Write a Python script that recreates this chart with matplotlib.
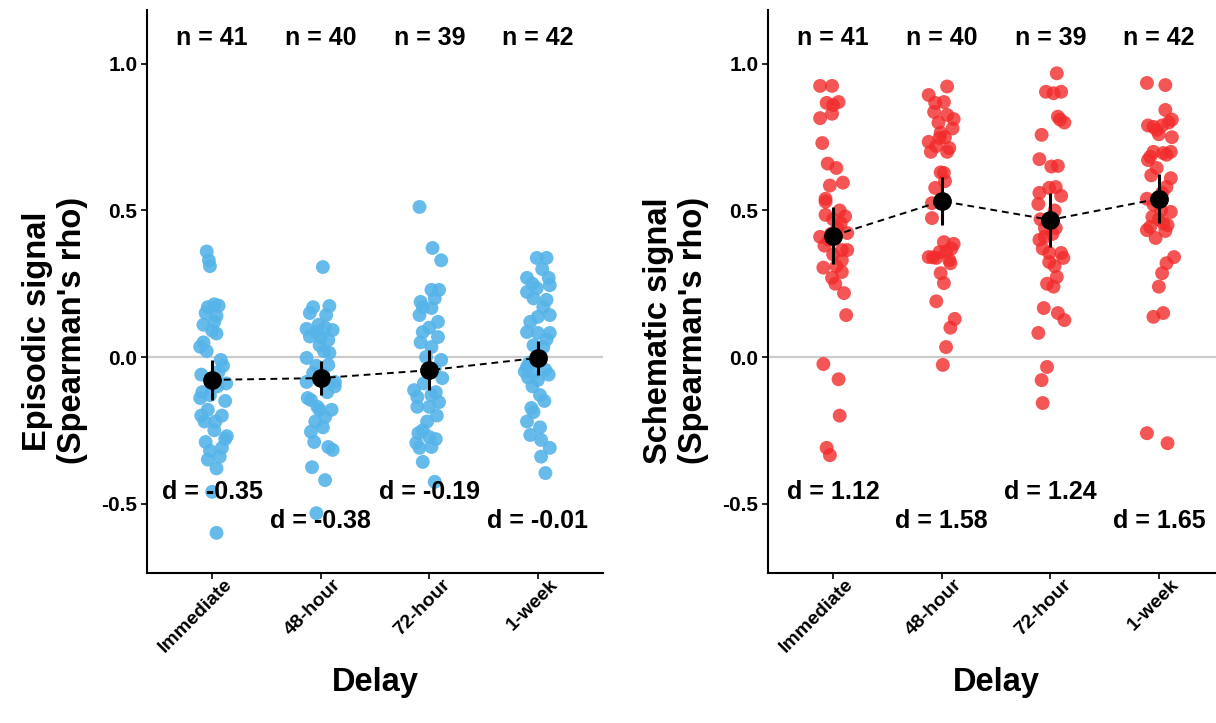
import numpy as np
import matplotlib
matplotlib.use("Agg")
import matplotlib.pyplot as plt
import matplotlib.transforms as mtransforms

plt.rcParams['font.family'] = ['Liberation Sans', 'DejaVu Sans']
plt.rcParams['font.weight'] = 'bold'

delays = ['Immediate', '48-hour', '72-hour', '1-week']
n_labels = ['n = 41', 'n = 40', 'n = 39', 'n = 42']

# episodic signal per delay (value, jitter)
epi_imm = [0.36, 0.33, 0.31, 0.17, 0.175, 0.14, 0.11, 0.09, 0.08, 0.05,
           0.035, -0.01, -0.09, -0.12, -0.14, -0.13, -0.15, -0.22, -0.22, -0.20,
           -0.27, -0.29, -0.31, -0.28, -0.32, -0.34, -0.38, -0.46, -0.60,
           0.02, -0.03, -0.06, -0.10, -0.18, -0.25, 0.12, -0.05, -0.20, 0.15, 0.18, -0.35]
epi_imm_jit = [-0.05, -0.03, -0.02, -0.04, 0.06, 0.04, -0.08, 0.0, 0.04, -0.08,
               -0.11, 0.08, 0.13, -0.09, -0.11, -0.02, 0.12, -0.07, 0.03, 0.09,
               0.135, -0.06, 0.09, 0.12, -0.02, 0.07, 0.04, 0.0, 0.04,
               -0.05, 0.10, -0.10, 0.05, -0.04, 0.02, 0.02, 0.06, -0.10, -0.06, 0.02, -0.04]

epi_48 = [0.307, 0.17, 0.174, 0.15, 0.143, 0.096, 0.085, 0.092, 0.068, 0.058,
          0.04, 0.014, -0.003, -0.027, -0.055, -0.085, -0.085, -0.10, -0.147, -0.17,
          -0.18, -0.205, -0.18, -0.255, -0.24, -0.29, -0.307, -0.317, -0.376, -0.42, -0.533,
          0.10, 0.07, 0.02, -0.03, -0.12, -0.14, -0.22, 0.11, -0.06]
epi_48_jit = [0.02, -0.07, 0.08, -0.10, 0.05, -0.13, -0.04, 0.11, 0.0, 0.07,
              -0.01, 0.08, -0.13, 0.07, -0.07, -0.13, 0.13, 0.13, -0.09, -0.03,
              0.10, 0.04, -0.01, -0.09, 0.02, -0.06, 0.07, 0.11, -0.08, 0.04, -0.04,
              0.04, -0.10, 0.03, -0.04, 0.06, -0.12, -0.05, -0.02, 0.02]

epi_72 = [0.512, 0.372, 0.33, 0.229, 0.229, 0.188, 0.17, 0.167, 0.143, 0.12,
          0.085, 0.068, 0.034, 0.0, -0.01, -0.072, -0.113, -0.12, -0.137, -0.154,
          -0.17, -0.17, -0.25, -0.273, -0.293, -0.307, -0.31, -0.358, -0.426,
          0.10, 0.05, -0.04, -0.09, -0.20, -0.22, -0.28, 0.20, -0.13, -0.26]
epi_72_jit = [-0.09, 0.03, 0.11, 0.02, 0.09, -0.08, -0.06, 0.02, -0.09, 0.08,
              -0.06, 0.08, 0.02, -0.03, 0.11, 0.12, -0.14, 0.06, -0.11, 0.09,
              -0.11, 0.0, -0.06, 0.0, -0.12, 0.02, -0.09, -0.06, 0.05,
              0.0, -0.08, 0.05, -0.05, 0.07, -0.02, 0.06, 0.05, 0.02, -0.10]

epi_1w = [0.338, 0.338, 0.27, 0.27, 0.245, 0.222, 0.235, 0.195, 0.137, 0.143,
          0.085, 0.082, 0.082, 0.04, 0.034, -0.05, -0.055, -0.044, -0.078, -0.034,
          -0.13, -0.174, -0.188, -0.22, -0.24, -0.266, -0.283, -0.31, -0.34, -0.396,
          0.30, 0.25, 0.17, 0.12, 0.06, 0.0, -0.02, -0.06, -0.10, -0.15, 0.20, -0.07]
epi_1w_jit = [-0.01, 0.08, -0.10, 0.10, 0.11, -0.10, -0.01, 0.08, 0.0, 0.11,
              -0.10, 0.0, 0.11, -0.04, 0.05, -0.12, -0.04, 0.07, 0.0, -0.10,
              0.02, -0.06, -0.04, -0.10, 0.02, -0.07, 0.03, 0.11, 0.03, 0.07,
              0.04, -0.05, 0.05, -0.07, 0.08, 0.03, -0.08, 0.10, -0.05, 0.06, -0.04, -0.09]

# schematic signal per delay
sch_imm = [0.925, 0.925, 0.867, 0.87, 0.86, 0.815, 0.83, 0.73, 0.66, 0.645,
           0.585, 0.595, 0.54, 0.53, 0.485, 0.48, 0.457, 0.41, 0.40, 0.423,
           0.365, 0.365, 0.35, 0.305, 0.33, 0.29, 0.27, 0.25, 0.218, 0.143,
           -0.024, -0.076, -0.20, -0.31, -0.335,
           0.44, 0.38, 0.31, 0.47, 0.50, 0.42]
sch_imm_jit = [-0.12, -0.01, -0.06, 0.05, 0.0, -0.12, -0.01, -0.10, -0.05, 0.03,
               -0.03, 0.09, -0.07, -0.07, -0.07, 0.11, 0.07, -0.12, -0.04, 0.13,
               0.08, 0.13, 0.0, -0.09, 0.08, 0.08, -0.01, 0.02, 0.10, 0.12,
               -0.09, 0.05, 0.06, -0.06, -0.03,
               0.04, -0.08, 0.03, 0.0, 0.06, -0.02]

sch_48 = [0.923, 0.894, 0.867, 0.836, 0.826, 0.812, 0.78, 0.765, 0.734, 0.747,
          0.713, 0.70, 0.70, 0.63, 0.628, 0.577, 0.525, 0.474, 0.392, 0.386,
          0.341, 0.338, 0.358, 0.331, 0.32, 0.286, 0.252, 0.19, 0.13, 0.10,
          0.034, -0.027,
          0.75, 0.72, 0.80, 0.36, 0.34, 0.37, 0.87, 0.60]
sch_48_jit = [0.05, -0.12, -0.06, -0.07, 0.05, 0.11, 0.10, -0.01, -0.12, -0.02,
              0.07, -0.10, 0.05, -0.01, 0.02, -0.06, -0.09, -0.09, 0.02, 0.11,
              -0.12, -0.05, -0.02, 0.07, 0.08, -0.01, 0.02, -0.05, 0.12, 0.08,
              0.04, 0.01,
              0.03, -0.05, -0.03, 0.04, -0.08, 0.09, 0.02, 0.03]

sch_72 = [0.968, 0.905, 0.90, 0.905, 0.82, 0.80, 0.81, 0.758, 0.675, 0.65,
          0.652, 0.577, 0.56, 0.55, 0.522, 0.50, 0.44, 0.40, 0.41, 0.355,
          0.355, 0.324, 0.338, 0.273, 0.24, 0.167, 0.15, 0.126, 0.082, -0.034,
          -0.079, -0.157,
          0.44, 0.37, 0.31, 0.47, 0.58, 0.25, 0.42]
sch_72_jit = [0.06, -0.04, 0.03, 0.10, 0.07, 0.13, 0.09, -0.08, -0.10, 0.01,
              0.07, -0.01, -0.10, 0.10, -0.11, 0.04, -0.05, -0.10, -0.05, -0.01,
              0.10, -0.01, 0.12, 0.06, 0.03, -0.06, 0.07, 0.13, -0.11, -0.03,
              -0.08, -0.07,
              0.05, -0.07, 0.04, -0.09, 0.05, -0.03, 0.02]

sch_1w = [0.935, 0.928, 0.843, 0.81, 0.79, 0.775, 0.785, 0.75, 0.70, 0.696,
          0.683, 0.672, 0.645, 0.61, 0.58, 0.54, 0.495, 0.478, 0.457, 0.433,
          0.406, 0.444, 0.341, 0.32, 0.286, 0.24, 0.137, 0.15, -0.26, -0.294,
          0.79, 0.80, 0.70, 0.69, 0.47, 0.45, 0.52, 0.50, 0.43, 0.62, 0.76, 0.56]
sch_1w_jit = [-0.11, 0.06, 0.06, 0.12, -0.10, -0.02, -0.05, 0.12, 0.11, 0.04,
              -0.08, -0.10, -0.02, 0.11, 0.07, -0.11, 0.11, -0.06, 0.04, -0.11,
              -0.03, -0.08, 0.14, 0.07, 0.03, 0.0, -0.05, 0.04, -0.11, 0.08,
              0.03, 0.09, -0.05, 0.07, 0.0, 0.08, -0.05, 0.02, 0.06, -0.07, 0.0, 0.03]

# group means and 95% CI half widths
epi_mean = [-0.078, -0.072, -0.045, -0.003]
epi_ci = [0.068, 0.057, 0.068, 0.058]
sch_mean = [0.414, 0.532, 0.468, 0.540]
sch_ci = [0.097, 0.083, 0.091, 0.083]

epi_d = ['d = -0.35', 'd = -0.38', 'd = -0.19', 'd = -0.01']
sch_d = ['d = 1.12', 'd = 1.58', 'd = 1.24', 'd = 1.65']

panels = [
    dict(vals=[epi_imm, epi_48, epi_72, epi_1w],
         jit=[epi_imm_jit, epi_48_jit, epi_72_jit, epi_1w_jit],
         mean=epi_mean, ci=epi_ci, d=epi_d, color='#56B4E9', alpha=0.9,
         ylabel="Episodic signal\n(Spearman's rho)"),
    dict(vals=[sch_imm, sch_48, sch_72, sch_1w],
         jit=[sch_imm_jit, sch_48_jit, sch_72_jit, sch_1w_jit],
         mean=sch_mean, ci=sch_ci, d=sch_d, color='#F22B2B', alpha=0.8,
         ylabel="Schematic signal\n(Spearman's rho)"),
]

fig = plt.figure(figsize=(12.16, 7.23), dpi=100)
lefts = [147 / 1216, 768 / 1216]
shift = mtransforms.ScaledTranslation(8.6 / 72, 5 / 72, fig.dpi_scale_trans)
for p, left in zip(panels, lefts):
    ax = fig.add_axes([left, 1 - 573 / 723, 456 / 1216, 563 / 723])
    pos = np.arange(1, 5)
    ax.axhline(0, color='#cccccc', lw=1.6, zorder=0)
    for i in range(4):
        x = pos[i] + np.array(p['jit'][i])
        ax.scatter(x, p['vals'][i], s=100, color=p['color'], alpha=p['alpha'],
                   edgecolors='none', zorder=2)
    ax.plot(pos, p['mean'], ls=(0, (3.5, 2.5)), color='black', lw=1.4, zorder=3)
    ax.errorbar(pos, p['mean'], yerr=p['ci'], fmt='o', color='black', ms=12.5,
                elinewidth=2.2, capsize=0, zorder=4)
    for i in range(4):
        ax.text(pos[i], 1.09, n_labels[i], ha='center', va='center', fontsize=18,
                fontweight='bold')
        yd = -0.46 if i % 2 == 0 else -0.56
        ax.text(pos[i], yd, p['d'][i], ha='center', va='center', fontsize=18,
                fontweight='bold')
    ax.set_xlim(0.4, 4.6)
    ax.set_ylim(-0.737, 1.184)
    ax.set_yticks([-0.5, 0.0, 0.5, 1.0])
    ax.set_yticklabels(['-0.5', '0.0', '0.5', '1.0'])
    ax.set_xticks(pos)
    ax.set_xticklabels(delays, rotation=45, ha='right', va='top',
                       rotation_mode='anchor')
    ax.tick_params(axis='y', labelsize=15, length=4, width=1.2, pad=3)
    ax.tick_params(axis='x', labelsize=14, length=4, width=1.2, pad=3)
    for lab in ax.get_xticklabels():
        lab.set_fontweight('bold')
        lab.set_transform(lab.get_transform() + shift)
    for lab in ax.get_yticklabels():
        lab.set_fontweight('bold')
    for s in ['top', 'right']:
        ax.spines[s].set_visible(False)
    for s in ['left', 'bottom']:
        ax.spines[s].set_linewidth(1.5)
    ax.set_xlabel('Delay', fontsize=23.5, fontweight='bold', labelpad=8)
    ax.set_ylabel(p['ylabel'], fontsize=23.5, fontweight='bold',
                  linespacing=1.15)
    ax.yaxis.set_label_coords(-0.13, 0.43)

fig.savefig('out.png', dpi=100)
